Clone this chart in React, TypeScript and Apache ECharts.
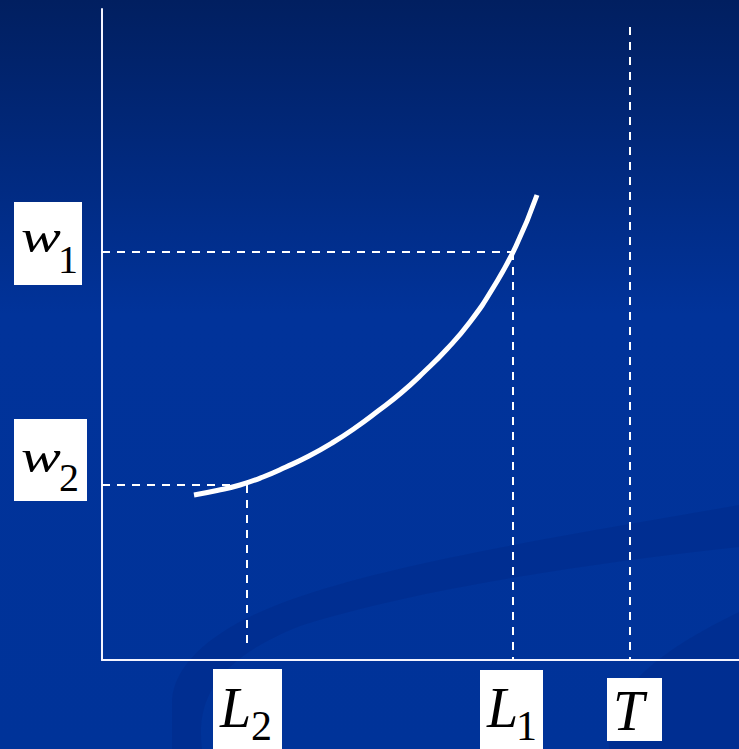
import React, { useEffect, useRef } from "react";
import * as echarts from "echarts";

// Curve (arbitrary units: origin at the axes' corner)
const curveX = [92, 115, 138, 161, 184, 207, 230, 253, 276, 299, 322, 345, 368, 391, 414, 435];
const curveY = [165, 169.5, 175, 183, 193, 204, 217, 232, 249, 267, 288, 311, 338, 372, 414, 465];

// Axis extents
const xMax = 637;
const yMax = 651;

// Reference levels
const w1 = 408;
const w2 = 175;
const L1 = 411;
const L2 = 145;
const T = 528;
const tTop = 633;
const l2Bottom = 17;

const SERIF = "'Liberation Serif', 'Times New Roman', serif";
const DASH = [8, 7];

function buildLabels(chart: any) {
  const els: any[] = [];
  let n = 0;
  const toPx = (x: number, y: number) => chart.convertToPixel({ gridIndex: 0 }, [x, y]);
  const mid = (baseline: number, fs: number) => baseline - 0.3375 * fs;

  const txt = (x: number, baseline: number, s: string, fs: number, italic: boolean, sx = 1) => ({
    type: "text",
    id: "lab" + n++,
    z: 101,
    x,
    y: mid(baseline, fs),
    scaleX: sx,
    style: {
      text: s,
      fill: "#000",
      font: `${italic ? "italic " : ""}${fs}px ${SERIF}`,
      verticalAlign: "middle",
      align: "left",
    },
  });
  const box = (x: number, y: number, w: number, h: number) => ({
    type: "rect",
    id: "lab" + n++,
    z: 100,
    shape: { x, y, width: w, height: h },
    style: { fill: "#ffffff" },
  });

  // y labels
  const pw1 = toPx(0, w1)[1];
  els.push(box(14, pw1 - 50, 68, 83));
  els.push(txt(21, pw1 + 0, "w", 46, true, 1.3));
  els.push(txt(58, pw1 + 21, "1", 40, false));

  const pw2 = toPx(0, w2)[1];
  els.push(box(14, pw2 - 66, 73, 82));
  els.push(txt(21, pw2 - 13, "w", 46, true, 1.3));
  els.push(txt(59, pw2 + 6, "2", 40, false));

  // x labels
  const axisY = toPx(0, 0)[1];
  const pL2 = toPx(L2, 0)[0];
  els.push(box(pL2 - 34, axisY + 9, 69, 100));
  els.push(txt(pL2 - 27, axisY + 67, "L", 56, true));
  els.push(txt(pL2 + 4, axisY + 80, "2", 42, false));

  const pL1 = toPx(L1, 0)[0];
  els.push(box(pL1 - 33, axisY + 10, 63, 100));
  els.push(txt(pL1 - 26, axisY + 67, "L", 56, true));
  els.push(txt(pL1 + 3, axisY + 80, "1", 42, false));

  const pT = toPx(T, 0)[0];
  els.push(box(pT - 23, axisY + 18, 55, 63));
  els.push(txt(pT - 17, axisY + 70, "T", 56, true));

  return els;
}

echarts.graphic.registerShape(
  "swooshBand",
  echarts.graphic.extendPath(
    "M 739 505 C 600 530 400 560 290 600 C 220 625 175 660 172 700 L 172 749 L 202 749 C 196 700 215 660 300 626 C 420 588 600 562 739 547 Z",
    {}
  )
);
echarts.graphic.registerShape(
  "swooshBlob",
  echarts.graphic.extendPath("M 609 749 C 606 700 640 660 739 612 L 739 749 Z", {})
);

export default function App() {
  const ref = useRef<HTMLDivElement>(null);

  useEffect(() => {
    if (!ref.current) return;
    const chart = echarts.init(ref.current, null, { renderer: "svg" });

    const dashed = (data: number[][]) => ({
      type: "line",
      data,
      symbol: "none",
      silent: true,
      z: 3,
      lineStyle: { color: "#ffffff", width: 2, type: DASH },
    });

    chart.setOption({
      animation: false,
      graphic: [
        {
          type: "rect",
          id: "bg",
          z: -10,
          silent: true,
          shape: { x: 0, y: 0, width: 739, height: 749 },
          style: {
            fill: new echarts.graphic.LinearGradient(0, 0, 0, 1, [
              { offset: 0, color: "#011f60" },
              { offset: 0.42, color: "#01339a" },
              { offset: 1, color: "#003399" },
            ]),
          },
        },
        {
          type: "swooshBand",
          id: "band",
          z: -9,
          silent: true,
          style: { fill: "rgba(0,20,90,0.12)" },
        },
        {
          type: "swooshBlob",
          id: "blob",
          z: -9,
          silent: true,
          style: { fill: "rgba(0,20,90,0.12)" },
        },
      ],
      grid: { left: 102, right: 0, top: 9, bottom: 89, containLabel: false, outerBoundsMode: "none" },
      xAxis: {
        type: "value",
        min: 0,
        max: xMax,
        axisLine: { show: true, onZero: false, lineStyle: { color: "#f4f4ff", width: 2 } },
        axisTick: { show: false },
        axisLabel: { show: false },
        splitLine: { show: false },
      },
      yAxis: {
        type: "value",
        min: 0,
        max: yMax,
        axisLine: { show: true, onZero: false, lineStyle: { color: "#f4f4ff", width: 2 } },
        axisTick: { show: false },
        axisLabel: { show: false },
        splitLine: { show: false },
      },
      series: [
        dashed([[0, w1], [L1, w1]]),
        dashed([[L1, w1], [L1, 0]]),
        dashed([[0, w2], [L2, w2]]),
        dashed([[L2, w2], [L2, l2Bottom]]),
        dashed([[T, tTop], [T, 0]]),
        {
          type: "line",
          data: curveX.map((x, i) => [x, curveY[i]]),
          smooth: 0.5,
          symbol: "none",
          silent: true,
          z: 5,
          lineStyle: { color: "#ffffff", width: 5, cap: "butt" },
        },
      ],
    });

    chart.setOption({ graphic: buildLabels(chart) });

    return () => chart.dispose();
  }, []);

  return (
    <div
      ref={ref}
      style={{ position: "absolute", left: 0, top: 0, width: 739, height: 749 }}
    />
  );
}
